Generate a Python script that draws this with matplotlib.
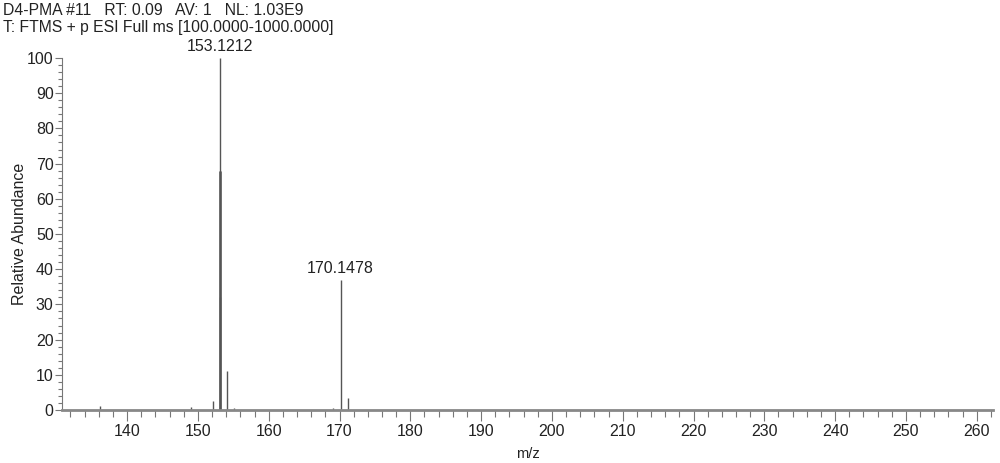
import numpy as np
import matplotlib.pyplot as plt
from matplotlib.ticker import MultipleLocator

plt.rcParams['font.family'] = ['Liberation Sans', 'DejaVu Sans']

# centroid sticks
mz = [136.1, 149.0, 152.1, 153.09, 153.11, 153.1212, 154.12, 155.1, 169.1, 170.1478, 171.15]
intensity = [1.0, 0.8, 2.5, 32.0, 68.0, 100.0, 11.0, 0.6, 0.5, 37.0, 3.5]
labelled = [(153.1212, 100.0, "153.1212"), (170.1478, 37.0, "170.1478")]

header1 = "D4-PMA #11   RT: 0.09   AV: 1   NL: 1.03E9"
header2 = "T: FTMS + p ESI Full ms [100.0000-1000.0000]"

fig = plt.figure(figsize=(10, 4.63), dpi=100)
ax = fig.add_axes([0.062, 0.1145, 0.931, 0.7602])

ax.vlines(mz, 0, intensity, color='#555555', linewidth=1.0)
ax.vlines([153.11], 0, [68.0], color='#555555', linewidth=1.8)

for x, y, s in labelled:
    ax.text(x, y + 1.2, s, ha='center', va='bottom', fontsize=11.5, color='#222222')

ax.set_xlim(130.8, 262.3)
ax.set_ylim(0, 100)
ax.xaxis.set_major_locator(MultipleLocator(10))
ax.xaxis.set_minor_locator(MultipleLocator(2))
ax.yaxis.set_major_locator(MultipleLocator(10))
ax.yaxis.set_minor_locator(MultipleLocator(2))

for side in ['top', 'right']:
    ax.spines[side].set_visible(False)
ax.spines['left'].set_color('#777777')
ax.spines['left'].set_linewidth(0.8)
ax.spines['bottom'].set_color('#888888')
ax.spines['bottom'].set_linewidth(2.0)

ax.tick_params(axis='x', which='major', length=8, width=0.8, color='#777777', labelsize=11.5, labelcolor='#222222', pad=2)
ax.tick_params(axis='x', which='minor', length=5, width=0.8, color='#777777')
ax.tick_params(axis='y', which='major', length=5, width=0.8, color='#777777', labelsize=11.5, labelcolor='#222222', pad=1)
ax.tick_params(axis='y', which='minor', length=3, width=0.8, color='#777777')

ax.set_xlabel("m/z", fontsize=10.5, color='#222222', labelpad=6)
ax.set_ylabel("Relative Abundance", fontsize=11.5, color='#222222', labelpad=0)

fig.text(0.003, 0.978, header1, ha='left', va='center', fontsize=11.3, color='#222222')
fig.text(0.003, 0.94, header2, ha='left', va='center', fontsize=11.3, color='#222222')

fig.savefig("out.png", dpi=100)
